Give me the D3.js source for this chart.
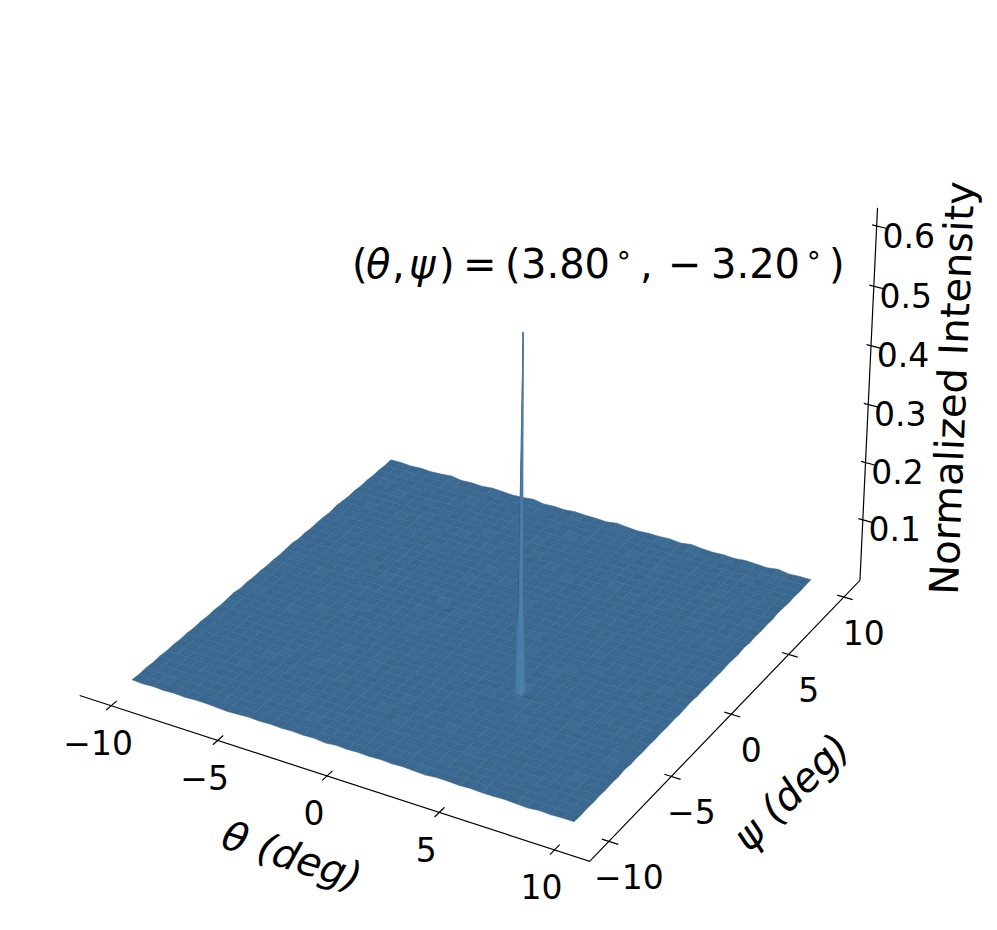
<!DOCTYPE html>
<html>
<head>
<meta charset="utf-8">
<script src="https://cdn.jsdelivr.net/npm/d3@7"></script>
<style>
  html, body { margin: 0; background: #fff; }
  text { font-family: "DejaVu Sans", sans-serif; fill: #000; }
</style>
</head>
<body>
<div id="chart"></div>
<script>
// Values
const thetaGrid = [-10,-9.5,-9,-8.5,-8,-7.5,-7,-6.5,-6,-5.5,-5,-4.5,-4,-3.5,-3,-2.5,-2,-1.5,-1,-0.5,0,0.5,1,1.5,2,2.5,3,3.5,4,4.5,5,5.5,6,6.5,7,7.5,8,8.5,9,9.5,10];
const psiGrid = thetaGrid.slice();
const thetaTicks = [-10, -5, 0, 5, 10];
const psiTicks = [-10, -5, 0, 5, 10];
const zTicks = [0.1, 0.2, 0.3, 0.4, 0.5, 0.6];

// Normalized intensity x 1000, one row per psi, one column per theta
const intensity = [
  [7,6,7,6,7, 6,7,7,6,5, 6,7,6,7,6, 7,6,7,5,7, 6,7,6,7,6, 7,6,5,7,7, 6,7,6,6,7, 6,5,7,6,7, 7],
  [6,7,6,5,7, 6,6,7,5,6, 7,6,6,5,7, 6,7,6,6,5, 7,6,6,7,6, 5,7,6,7,5, 6,7,6,6,5, 7,6,7,5,6, 6],
  [7,6,7,6,5, 7,6,6,7,6, 5,7,6,7,6, 6,5,7,6,6, 7,5,6,7,6, 7,6,6,5,7, 6,6,7,5,6, 7,6,5,7,6, 7],
  [6,7,6,6,7, 6,5,6,7,6, 7,6,5,6,6, 7,6,7,5,6, 6,7,6,5,7, 6,6,7,6,6, 5,7,6,7,6, 5,6,7,6,7, 6],
  [7,6,5,7,6, 6,7,6,6,5, 7,6,7,6,5, 6,7,6,6,7, 5,6,6,7,5, 7,6,6,7,5, 6,6,7,6,6, 7,5,6,6,7, 7],
  [6,6,7,6,7, 5,6,7,6,7, 6,5,6,7,6, 7,6,5,7,6, 6,7,5,6,7, 6,6,5,7,6, 7,6,5,7,6, 6,7,6,5,6, 6],
  [7,7,6,5,6, 7,6,5,7,6, 6,7,6,6,7, 5,6,7,6,6, 5,7,6,7,6, 6,5,7,6,6, 7,5,6,6,7, 6,6,7,6,7, 7],
  [6,6,6,7,6, 6,7,6,6,7, 5,6,7,5,6, 7,6,6,5,7, 6,6,7,6,5, 7,6,6,7,5, 6,7,6,7,5, 6,7,5,6,6, 6],
  [7,6,7,6,5, 7,6,6,5,6, 7,6,6,7,6, 5,7,6,7,6, 6,5,7,6,7, 6,5,7,6,6, 7,6,6,5,7, 6,6,7,6,5, 8],
  [6,7,5,6,7, 6,6,7,6,5, 7,6,5,6,7, 6,6,7,5,6, 7,6,6,5,7, 6,7,6,5,7, 6,5,7,6,6, 7,5,6,7,6, 6],
  [7,6,6,7,6, 5,7,6,7,6, 6,7,6,6,5, 7,6,5,6,7, 6,7,5,6,6, 7,6,6,7,6, 5,6,7,6,7, 6,6,5,7,6, 7],
  [6,6,7,5,6, 7,6,5,6,7, 5,6,7,6,7, 6,5,7,6,6, 7,5,6,7,6, 6,7,5,6,7, 6,7,6,6,5, 7,6,7,6,6, 6],
  [7,7,6,6,7, 6,5,7,6,6, 7,6,6,5,6, 7,6,6,7,5, 6,7,6,6,7, 5,6,7,7,5, 6,6,5,7,6, 6,7,6,5,7, 7],
  [6,5,6,7,6, 6,7,6,5,7, 6,5,7,6,6, 7,5,6,6,7, 6,6,7,5,6, 8,7,8,7,6, 7,5,6,6,7, 6,5,7,6,6, 6],
  [7,7,6,6,5, 7,6,6,7,6, 6,7,6,5,7, 6,6,7,5,6, 7,6,6,7,6, 5,8,7,2,5, 6,7,6,5,6, 7,6,6,7,5, 7],
  [8,6,7,5,6, 6,5,7,6,6, 7,6,5,7,6, 6,7,6,6,7, 5,6,7,6,6, 7,6,7,5,7, 6,6,7,6,7, 5,6,7,6,6, 6],
  [6,6,5,7,6, 7,6,6,5,7, 6,6,7,6,5, 7,6,6,7,6, 6,7,5,6,7, 6,6,5,7,6, 6,7,5,6,6, 7,6,5,7,6, 7],
  [7,7,6,6,7, 5,6,7,6,6, 5,7,6,6,7, 6,5,7,6,5, 7,6,6,7,5, 6,7,6,6,5, 7,6,6,7,5, 6,7,6,6,7, 6],
  [6,6,6,7,5, 6,7,6,6,7, 6,5,7,6,6, 7,6,6,5,7, 6,7,6,5,6, 7,6,6,7,6, 5,7,6,6,7, 6,5,7,6,6, 7],
  [7,5,7,6,6, 7,6,5,7,6, 7,6,6,5,7, 6,7,5,6,6, 7,5,6,7,6, 6,5,7,6,7, 6,6,5,7,6, 7,6,6,5,7, 8],
  [6,6,6,5,7, 6,6,7,6,5, 6,7,6,7,6, 5,6,7,6,7, 6,6,7,5,6, 7,6,6,5,7, 6,7,6,6,5, 7,6,7,6,6, 6],
  [7,7,6,7,6, 5,7,6,6,7, 6,6,5,6,7, 6,7,6,5,6, 7,6,6,7,6, 5,7,6,7,6, 6,5,7,6,7, 6,5,6,7,6, 7],
  [6,6,5,6,7, 6,6,5,7,6, 7,5,6,7,6, 7,1,7,6,6, 5,7,6,6,7, 6,6,7,5,6, 7,6,6,7,5, 6,7,6,6,5, 6],
  [7,7,6,6,5, 7,6,7,6,6, 5,6,7,6,6, 5,7,6,7,5, 6,6,7,5,6, 7,6,5,6,7, 6,6,7,5,6, 7,6,6,7,6, 7],
  [8,6,7,5,6, 6,7,6,5,7, 6,7,6,5,7, 6,6,7,6,6, 7,5,6,6,7, 6,5,7,6,6, 7,5,6,7,6, 6,7,5,6,7, 6],
  [6,6,6,7,6, 5,6,7,6,6, 7,6,6,7,5, 6,7,5,6,7, 6,6,5,7,6, 6,7,6,5,7, 6,6,7,6,5, 7,6,6,7,6, 7],
  [7,5,7,6,7, 6,6,5,7,6, 5,7,6,6,7, 6,5,6,7,6, 6,7,6,5,7, 6,6,7,6,5, 6,7,6,6,7, 5,6,7,5,6, 7],
  [6,7,6,6,5, 7,6,6,7,5, 6,6,7,5,6, 7,6,7,6,5, 7,6,6,7,6, 5,7,6,6,7, 6,5,7,6,6, 7,6,6,5,7, 6],
  [7,6,7,5,6, 6,7,5,6,7, 6,7,5,6,6, 7,6,5,7,6, 6,7,5,6,6, 7,6,5,7,6, 6,7,6,5,7, 6,7,6,6,5, 8],
  [7,6,6,7,6, 6,5,7,6,6, 7,5,6,7,6, 6,7,6,6,7, 5,6,7,6,7, 6,5,6,7,6, 7,5,6,7,6, 5,6,7,6,6, 6],
  [6,7,5,6,7, 6,7,6,5,6, 7,6,6,5,7, 6,6,7,5,6, 7,6,6,5,7, 6,7,6,6,5, 7,6,6,5,7, 6,6,5,7,6, 7],
  [8,6,7,6,5, 7,6,6,7,6, 5,7,6,7,6, 5,7,6,6,7, 6,5,7,6,6, 7,6,5,7,6, 6,7,5,6,6, 7,6,7,6,5, 6],
  [7,6,6,5,7, 6,5,7,6,7, 6,6,5,6,7, 6,6,7,6,5, 7,6,6,7,5, 6,7,6,6,7, 5,6,7,6,7, 6,5,6,7,6, 7],
  [6,5,7,6,6, 7,6,6,5,7, 6,7,6,6,5, 7,6,5,7,6, 6,7,6,5,6, 7,6,6,7,5, 6,7,6,6,5, 7,6,6,7,6, 6],
  [7,7,6,7,6, 5,6,7,6,6, 7,5,6,7,6, 6,7,6,5,7, 6,6,5,7,6, 6,7,5,6,6, 7,6,6,7,6, 5,7,6,5,7, 8],
  [6,6,7,6,5, 7,6,5,7,6, 6,7,6,5,7, 6,5,7,6,6, 7,6,7,6,5, 7,6,7,6,5, 6,7,5,6,7, 6,6,7,6,6, 7],
  [7,6,5,7,6, 6,7,6,6,5, 7,6,6,7,6, 5,7,6,7,6, 5,6,7,6,7, 6,5,6,7,6, 7,6,6,5,7, 6,7,5,6,7, 6],
  [6,7,6,6,7, 5,6,7,6,7, 5,6,7,6,6, 7,6,6,5,7, 6,7,6,6,5, 7,6,6,7,6, 5,7,6,7,6, 6,5,7,6,6, 7],
  [7,6,7,5,6, 7,6,6,5,7, 6,7,5,6,7, 6,6,7,6,6, 5,7,6,6,7, 5,6,7,6,6, 7,6,5,7,6, 7,6,6,5,7, 6],
  [6,7,6,7,6, 5,7,6,7,6, 6,5,7,6,6, 7,5,6,7,5, 7,6,6,7,6, 6,7,5,6,7, 6,6,7,5,6, 6,7,6,7,6, 7],
  [7,7,6,7,6, 7,9,6,7,6, 8,7,6,7,9, 6,7,6,8,7, 7,6,9,7,6, 7,7,8,6,9, 7,6,7,6,8, 7,6,9,6,7, 7]
];

// The peak, read on its own finer grid
const peakThetas = [3.6, 3.7, 3.8, 3.9, 4.0];
const peakPsis = [-3.4, -3.3, -3.2, -3.1, -3.0];
const peakIntensity = [
  [  7,  8,  9,  8,  7],
  [  8, 125,150,  70, 9],
  [  9, 150,606, 150, 10],
  [  8,  70,150, 125, 9],
  [  7,  8,  9,   8,  7]
];

const width = 997, height = 930;
const surfaceZ = 0.0065;
const limTheta = [-11.5, 11.5], limPsi = [-11.5, 11.5], limZ = [-0.007, 0.63];

const svg = d3.select("#chart").append("svg")
  .attr("width", width)
  .attr("height", height);

// Scales: data to unit floor, the camera below takes it to the page
const uScale = d3.scaleLinear().domain([-10, 10]).range([0, 1]);
const vScale = d3.scaleLinear().domain([-10, 10]).range([0, 1]);
const zScale = d3.scaleLinear().domain([surfaceZ, 0.6]).range([0, 1]);

// Camera, calibrated on the corners of the surface and the z axis
const quad = [[132, 680], [574, 822], [811, 580], [391, 460]];
const vanish = [430, 9700];

function squareToQuad(q) {
  const [[x0, y0], [x1, y1], [x2, y2], [x3, y3]] = q;
  const dx1 = x1 - x2, dx2 = x3 - x2, sx = x0 - x1 + x2 - x3;
  const dy1 = y1 - y2, dy2 = y3 - y2, sy = y0 - y1 + y2 - y3;
  const det = dx1 * dy2 - dx2 * dy1;
  const g = (sx * dy2 - dx2 * sy) / det;
  const h = (dx1 * sy - sx * dy1) / det;
  return [x1 - x0 + g * x1, x3 - x0 + h * x3, x0, y1 - y0 + g * y1, y3 - y0 + h * y3, y0, g, h];
}
const H = squareToQuad(quad);

function floorPoint(theta, psi) {
  const u = uScale(theta), v = vScale(psi);
  return [
    H[0] * u + H[1] * v + H[2],
    H[3] * u + H[4] * v + H[5],
    H[6] * u + H[7] * v + 1
  ];
}

// z = 0.6 on the axis corner has to land on y = 226
const zGain = (() => {
  const p = floorPoint(limTheta[1], limPsi[1]);
  return (226 * p[2] - p[1]) / (vanish[1] - 226);
})();

function project(theta, psi, z) {
  const p = floorPoint(theta, psi);
  const t = zScale(z) * zGain;
  const w = p[2] + t;
  return [(p[0] + t * vanish[0]) / w, (p[1] + t * vanish[1]) / w];
}

// Surface
const colorBase = "#3a6890", colorLight = "#4b80ad", colorDark = "#2c5474";
const noiseShade = d3.scaleLinear()
  .domain([-0.15, 0, 0.15])
  .range([colorDark, colorBase, colorLight])
  .clamp(true);
const peakShade = d3.scaleLinear()
  .domain([-0.6, 0, 0.6])
  .range([colorDark, colorBase, colorLight])
  .clamp(true);

function buildCells(thetas, psis, values) {
  const cells = [];
  for (let j = 0; j < psis.length - 1; j++) {
    for (let i = 0; i < thetas.length - 1; i++) {
      const t0 = thetas[i], t1 = thetas[i + 1];
      const p0 = psis[j], p1 = psis[j + 1];
      const z00 = values[j][i] / 1000, z10 = values[j][i + 1] / 1000;
      const z01 = values[j + 1][i] / 1000, z11 = values[j + 1][i + 1] / 1000;
      const dzt = ((z10 - z00) + (z11 - z01)) / 2 / (t1 - t0) * 10;
      const dzp = ((z01 - z00) + (z11 - z10)) / 2 / (p1 - p0) * 10;
      const norm = Math.hypot(dzt, dzp, 1);
      cells.push({
        depth: (t0 + t1) / 2 - (p0 + p1) / 2,
        // light comes from the front corner, flat cells give 0
        lit: (-dzt * 0.45 + dzp * 0.45) / norm,
        corners: [[t0, p0, z00], [t1, p0, z10], [t1, p1, z11], [t0, p1, z01]]
      });
    }
  }
  return cells.sort((a, b) => d3.ascending(a.depth, b.depth));
}

const cellLine = d3.line().curve(d3.curveLinearClosed);

function drawCells(name, cells, shade) {
  svg.append("g")
    .attr("class", name)
    .selectAll("path")
    .data(cells)
    .join("path")
    .attr("d", d => cellLine(d.corners.map(c => project(c[0], c[1], c[2]))))
    .attr("fill", d => shade(d.lit))
    .attr("stroke", d => shade(d.lit))
    .attr("stroke-width", 0.5);
}

drawCells("surface", buildCells(thetaGrid, psiGrid, intensity), noiseShade);
drawCells("peak", buildCells(peakThetas, peakPsis, peakIntensity), peakShade);

// Axes
const axes = svg.append("g").attr("class", "axes")
  .attr("stroke", "#000")
  .attr("stroke-width", 1.2)
  .attr("fill", "none");
const axisPath = [
  project(limTheta[0], limPsi[0], limZ[0]),
  project(limTheta[1], limPsi[0], limZ[0]),
  project(limTheta[1], limPsi[1], limZ[0]),
  project(limTheta[1], limPsi[1], limZ[1])
];
axes.append("path").attr("d", d3.line()(axisPath));

function addTick(a, b) {
  axes.append("path").attr("d", d3.line()([a, b]));
}

function addLabel(pos, dx, dy, str) {
  svg.append("text")
    .attr("x", pos[0] + dx)
    .attr("y", pos[1] + dy)
    .attr("text-anchor", "middle")
    .attr("dominant-baseline", "central")
    .style("font-size", "33px")
    .text(str);
}

const tickFormat = d => (d < 0 ? "\u2212" + Math.abs(d) : String(d));

thetaTicks.forEach(t => {
  addTick(project(t, limPsi[0] - 0.35, limZ[0]), project(t, limPsi[0] + 0.4, limZ[0]));
  addLabel(project(t, limPsi[0], limZ[0]), -13, 38, tickFormat(t));
});
psiTicks.forEach(p => {
  addTick(project(limTheta[1] - 0.3, p, limZ[0]), project(limTheta[1] + 0.4, p, limZ[0]));
  addLabel(project(limTheta[1], p, limZ[0]), 20, 36, tickFormat(p));
});
zTicks.forEach(z => {
  addTick(project(limTheta[1] - 0.2, limPsi[1], z), project(limTheta[1] + 0.45, limPsi[1], z));
  addLabel(project(limTheta[1], limPsi[1], z), 32, 10, d3.format(".1f")(z));
});

// Axis titles
function addTitle(x, y, angle, size, str, italic) {
  svg.append("text")
    .attr("transform", `translate(${x},${y}) rotate(${angle})`)
    .attr("text-anchor", "middle")
    .attr("dominant-baseline", "central")
    .style("font-size", size + "px")
    .style("font-style", italic ? "italic" : "normal")
    .text(str);
}
addTitle(292, 856, 18, 40, "\u03b8 (deg)", true);
addTitle(791, 792, -45, 40, "\u03c8 (deg)", true);
addTitle(952, 388, -87.7, 40, "Normalized Intensity", false);

// Peak annotation, pieces placed the way the math layout spaces them
const peakParts = [
  { s: "(", x: 352 },
  { s: "\u03b8", x: 366, italic: true },
  { s: ",", x: 392 },
  { s: "\u03c8", x: 409, italic: true },
  { s: ")", x: 439 },
  { s: "=", x: 463 },
  { s: "(", x: 505 },
  { s: "3.80", x: 521 },
  { s: "\u2218", x: 615, sup: true },
  { s: ",", x: 640 },
  { s: "\u2212", x: 668 },
  { s: "3.20", x: 711 },
  { s: "\u2218", x: 805, sup: true },
  { s: ")", x: 829 }
];
svg.append("text")
  .style("font-size", "40px")
  .selectAll("tspan")
  .data(peakParts)
  .join("tspan")
  .attr("x", d => d.x)
  .attr("y", d => (d.sup ? 264 : 278))
  .style("font-size", d => (d.sup ? "28px" : null))
  .style("font-style", d => (d.italic ? "italic" : null))
  .text(d => d.s);
</script>
</body>
</html>
